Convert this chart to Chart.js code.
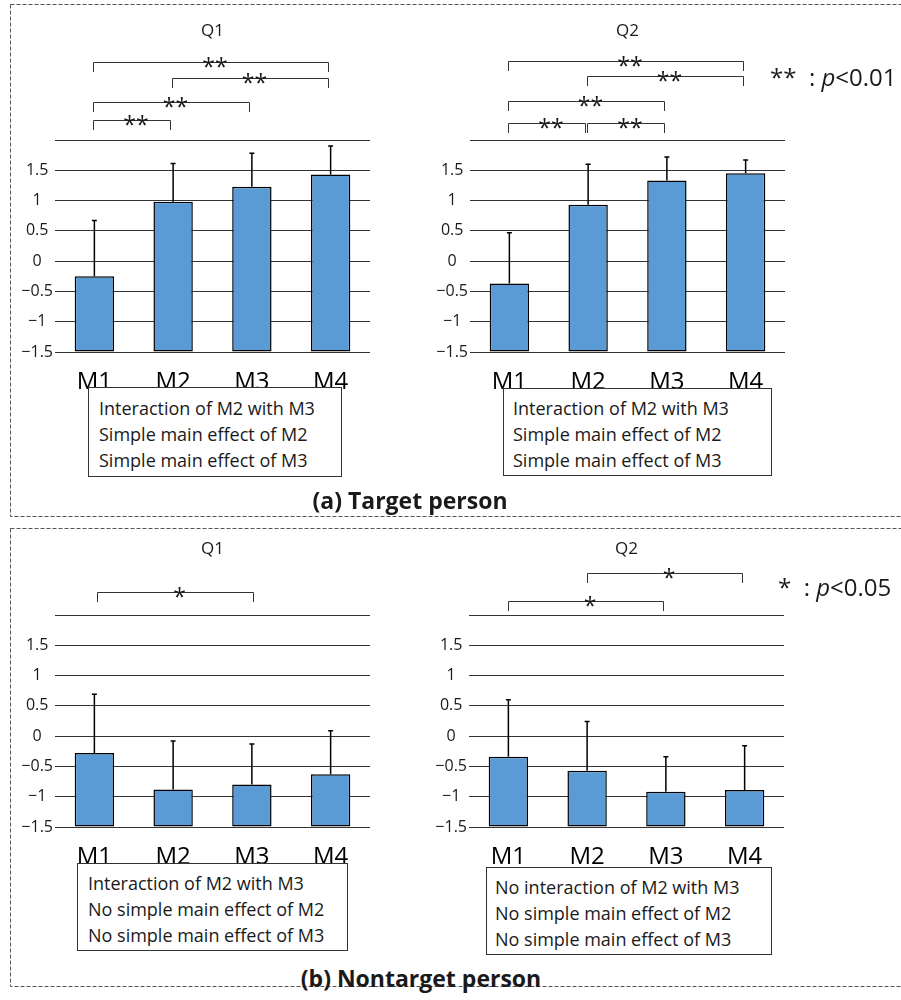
<!DOCTYPE html>
<html>
<head>
<meta charset="utf-8">
<script src="https://cdn.jsdelivr.net/npm/chart.js@4.4.1/dist/chart.umd.min.js"></script>
<style>
  body { margin: 0; background: #fff; font-family: 'Open Sans', sans-serif; color: #1a1a1a; }
  #page { position: relative; width: 901px; height: 1000px; overflow: hidden; }
  canvas { position: absolute; }
  .box { position: absolute; box-sizing: border-box; border: 1px solid #333; background: #fff;
         font-size: 18px; line-height: 26px; white-space: nowrap; }
  .sig { position: absolute; font-size: 24px; line-height: 30px; white-space: pre; }
  .part { position: absolute; font-size: 23px; font-weight: bold; line-height: 30px;
          transform: translateX(-50%); white-space: nowrap; }
  svg { position: absolute; left: 0; top: 0; }
</style>
</head>
<body>
<div id="page">
  <svg width="901" height="1000">
    <rect x="10.5" y="4.5" width="900" height="512" fill="none" stroke="#555" stroke-dasharray="4 2"/>
    <rect x="10.5" y="528.5" width="900" height="458" fill="none" stroke="#555" stroke-dasharray="4 2"/>
  </svg>

  <canvas id="aQ1" width="380" height="392" style="left:0;top:0"></canvas>
  <canvas id="aQ2" width="380" height="392" style="left:415px;top:0"></canvas>
  <canvas id="bQ1" width="380" height="392" style="left:0;top:475px"></canvas>
  <canvas id="bQ2" width="380" height="392" style="left:414px;top:475px"></canvas>

  <div class="sig" style="left:770px;top:62px">**  : <i>p</i>&lt;0.01</div>
  <div class="sig" style="left:778px;top:572px">*  : <i>p</i>&lt;0.05</div>

  <div class="box" style="left:88px;top:387px;width:254px;height:90px;padding:7px 0 0 10px">
    Interaction of M2 with M3<br>Simple main effect of M2<br>Simple main effect of M3
  </div>
  <div class="box" style="left:503px;top:388px;width:269px;height:88px;padding:6px 0 0 9px">
    Interaction of M2 with M3<br>Simple main effect of M2<br>Simple main effect of M3
  </div>
  <div class="part" style="left:410px;top:485px">(a) Target person</div>

  <div class="box" style="left:77px;top:863px;width:271px;height:88px;padding:6px 0 0 10px">
    Interaction of M2 with M3<br>No simple main effect of M2<br>No simple main effect of M3
  </div>
  <div class="box" style="left:486px;top:867px;width:286px;height:88px;padding:6px 0 0 8px">
    No interaction of M2 with M3<br>No simple main effect of M2<br>No simple main effect of M3
  </div>
  <div class="part" style="left:421px;top:963px">(b) Nontarget person</div>
</div>

<script>
const categories = ['M1', 'M2', 'M3', 'M4'];
const yTickLabels = ['−1.5', '−1', '−0.5', '0', '0.5', '1', '1.5', ''];

// (a) target person
const targetQ1Mean = [-0.25, 0.98, 1.23, 1.43];
const targetQ1Sd = [0.92, 0.63, 0.55, 0.47];
const targetQ2Mean = [-0.37, 0.93, 1.33, 1.45];
const targetQ2Sd = [0.84, 0.67, 0.39, 0.22];

// (b) nontarget person
const nontargetQ1Mean = [-0.28, -0.88, -0.80, -0.63];
const nontargetQ1Sd = [0.97, 0.80, 0.67, 0.72];
const nontargetQ2Mean = [-0.34, -0.57, -0.92, -0.89];
const nontargetQ2Sd = [0.94, 0.81, 0.58, 0.73];

// significance brackets: [from, to, height (axis units), mark]
const targetQ1Pairs = [[0, 3, 3.29, '**'], [1, 3, 3.03, '**'], [0, 2, 2.63, '**'], [0, 1, 2.33, '**']];
const targetQ2Pairs = [[0, 3, 3.30, '**'], [1, 3, 3.05, '**'], [0, 2, 2.64, '**'], [0, 1, 2.28, '**'], [1, 2, 2.28, '**']];
const nontargetQ1Pairs = [[0, 2, 2.38, '*']];
const nontargetQ2Pairs = [[1, 3, 2.69, '*'], [0, 2, 2.23, '*']];

const errorBars = {
  id: 'errorBars',
  afterDatasetsDraw(chart) {
    const { ctx, scales: { y } } = chart;
    const meta = chart.getDatasetMeta(0);
    const ds = chart.data.datasets[0];
    ctx.save();
    ctx.strokeStyle = '#000';
    ctx.lineWidth = 1.5;
    meta.data.forEach((bar, i) => {
      const top = y.getPixelForValue(ds.data[i] + ds.sd[i]);
      ctx.beginPath();
      ctx.moveTo(bar.x, bar.y);
      ctx.lineTo(bar.x, top);
      ctx.moveTo(bar.x - 2.5, top);
      ctx.lineTo(bar.x + 2.5, top);
      ctx.stroke();
    });
    ctx.restore();
  }
};

const brackets = {
  id: 'brackets',
  afterDraw(chart, args, opts) {
    const { ctx, scales: { x, y } } = chart;
    ctx.save();
    ctx.strokeStyle = '#333';
    ctx.lineWidth = 1;
    ctx.fillStyle = '#1a1a1a';
    ctx.font = '23px "Open Sans"';
    ctx.textAlign = 'center';
    ctx.textBaseline = 'alphabetic';
    opts.pairs.forEach(([a, b, level, mark]) => {
      const x1 = Math.round(x.getPixelForValue(a) + opts.shift + 1) + 0.5;
      const x2 = Math.round(x.getPixelForValue(b) + opts.shift - 1) + 0.5;
      const py = Math.round(y.getPixelForValue(level)) + 0.5;
      ctx.beginPath();
      ctx.moveTo(x1, py + 9.5);
      ctx.lineTo(x1, py);
      ctx.lineTo(x2, py);
      ctx.lineTo(x2, py + 9.5);
      ctx.stroke();
      ctx.fillText(mark, (x1 + x2) / 2 + 4, py + 12);
    });
    ctx.restore();
  }
};

const makeChart = (id, title, means, sds, pairs, padTop, shift) => {
  const ctx = document.getElementById(id).getContext('2d');
  return new Chart(ctx, {
    type: 'bar',
    data: {
      labels: categories,
      datasets: [{
        data: means,
        sd: sds,
        base: -1.5,
        backgroundColor: '#5B9BD5',
        borderColor: '#000',
        borderWidth: 1.5,
        borderSkipped: false,
        barPercentage: 0.5,
        categoryPercentage: 1,
      }],
    },
    options: {
      responsive: false,
      animation: false,
      layout: { padding: { right: 10 } },
      plugins: {
        legend: { display: false },
        tooltip: { enabled: false },
        title: {
          display: true,
          text: title,
          fullSize: false,
          color: '#1a1a1a',
          font: { family: 'Open Sans', size: 17, weight: 'normal', lineHeight: 1.2 },
          padding: { top: padTop, bottom: 140 - padTop - 20.4 },
        },
        brackets: { pairs, shift },
      },
      scales: {
        x: {
          grid: { display: false },
          border: { display: false },
          ticks: { color: '#000', font: { family: 'Open Sans', size: 24 }, padding: 8 },
          afterFit: (s) => { s.height = 40; },
        },
        y: {
          min: -1.5,
          max: 2,
          grid: { color: '#333', lineWidth: 1, drawTicks: false },
          border: { display: false },
          ticks: {
            stepSize: 0.5,
            crossAlign: 'center',
            padding: 2,
            color: '#1a1a1a',
            font: { family: "'Open Sans', 'DejaVu Sans'", size: 16 },
            callback: (v, i) => yTickLabels[i],
          },
          afterFit: (s) => { s.width = 55; },
        },
      },
    },
    plugins: [errorBars, brackets],
  });
};

makeChart('aQ1', 'Q1', targetQ1Mean, targetQ1Sd, targetQ1Pairs, 21, -2);
makeChart('aQ2', 'Q2', targetQ2Mean, targetQ2Sd, targetQ2Pairs, 21, -2);
makeChart('bQ1', 'Q1', nontargetQ1Mean, nontargetQ1Sd, nontargetQ1Pairs, 64, 2);
makeChart('bQ2', 'Q2', nontargetQ2Mean, nontargetQ2Sd, nontargetQ2Pairs, 64, -1.5);
</script>
</body>
</html>
